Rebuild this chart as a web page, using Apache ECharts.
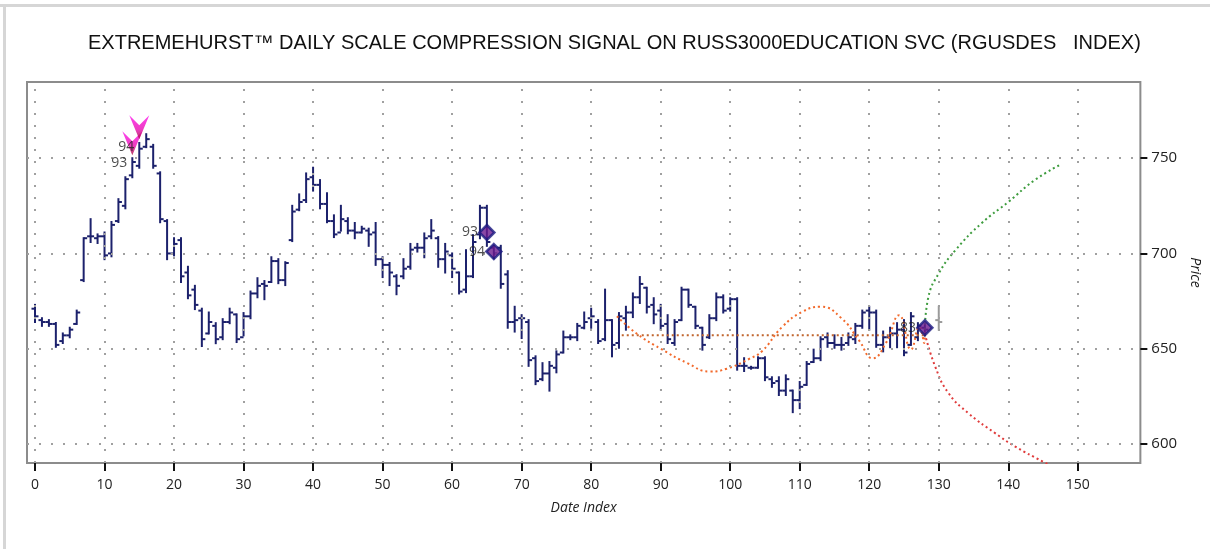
<!DOCTYPE html>
<html>
<head>
<meta charset="utf-8">
<script src="https://cdn.jsdelivr.net/npm/echarts@6/dist/echarts.min.js"></script>
<style>
html, body { margin: 0; padding: 0; background: #fff; }
#chart { width: 1210px; height: 549px; }
</style>
</head>
<body>
<div id="chart"></div>
<script>
var xTicks = [0, 10, 20, 30, 40, 50, 60, 70, 80, 90, 100, 110, 120, 130, 140, 150];
var yTicks = [600, 650, 700, 750];

// daily bars, x = position in the arrays
var barOpen = [
	671,665,664,663,654,657,663,686,709,708,
	709,700,717,725,741,746,756,756,742,717,
	700,707,690,681,670,658,662,656,664,668,
	656,667,679,684,685,696,686,707,723,728,
	740,736,726,717,711,717,712,711,712,711,
	697,694,688,688,693,703,703,709,708,697,
	699,690,681,688,710,724,703,703,689,664,
	666,664,645,634,637,640,648,656,656,661,
	666,664,655,665,653,666,669,677,682,673,
	670,663,653,665,681,672,661,656,666,677,
	671,676,641,640,640,645,634,633,628,628,
	623,631,643,645,656,653,652,653,655,662,
	670,669,652,656,658,660,652,656,661
];
var barHigh = [
	673,666,665,663.5,658,661,670,708,718,710,
	711,716.5,728.5,740,750,758,762.6,757,742.6,717.5,
	708,708,693,683,671,669,663.4,665.5,671,668,
	668.7,680,687,685.5,698,697,695.4,725,731,742,
	745,738.5,731.6,720,725,718.5,716,714,713,716,
	698,695,688.6,697,705,705,710.5,717.5,708.6,705,
	700,690,701.7,709.6,725,725,704,704,690.7,672,
	667.6,665,646,642.4,643,648.6,659,657,663,669,
	671,665,681,665,668.7,672,679,687.6,682,676.5,
	673,667.6,665,682,681,672,661,667.6,679,678,
	676.5,676.5,645,640.5,645.5,645.5,635,635,636,628,
	632.5,643,649.5,656,658,657,655.6,658,663,670,
	672,670,659,661,663.4,665,668.7,663.4,663
];
var barLow = [
	664,662,662,651,653,656,663,685.5,706,705.5,
	697,698.5,716.5,723.7,740,745,755.8,745,716.4,697,
	699,685,676.5,670.8,651.4,658,652.9,655,663.4,653.5,
	657,666,677,676,685,684.4,683.4,706.5,722.7,727,
	733,723.7,716.4,708.6,712,710.6,708,711,704,694,
	687.6,683.4,678.6,687,692,701,698,708,693,690,
	687.6,679,679.7,687.6,708,704,697.5,682,661,659,
	655.6,641,631.4,633.5,628,637.6,648,655,654.5,660.7,
	661,653,654.5,646,650.5,660,666.6,674,669,663.4,
	660,653,652,665,672,660.8,649.5,655.6,665,669,
	670,639,638.3,639.5,640,633.5,630,625.7,625.7,616.7,
	618.8,631,643,644,651,650.5,649.5,652,653,661,
	660,651,648.6,650.8,650.8,646.6,652,654.5,657
];
var barClose = [
	667,664,663,652,657,660,669,708,709,709,
	699,715,727,739,748,755,760,746,718,700,
	705,688,678,673,655,664,655,664,669,655,
	667,679,683,683,696,686,695,722,727,739,
	736,726,717,710,718,712,711,713,710,697,
	694,690,683,692,702,703,708,712,697,701,
	692,680,688,706,724,706,700,684,664,665,
	666,644,633,637,641,647,656,656,662,664,
	667,654,665,652,667,669,677,684,672,668,
	662,655,664,681,673,662,652,666,677,670,
	676,641,641,640,645,635,632,628,634,623,
	630,642,645,655,653,652,652,656,662,669,
	669,652,656,658,660,648,667,662,660
];
// grey bar after the last day [x, open, high, low, close]
var nextBar = [[130, 665, 672, 660, 664]];

// signals
var arrowPoints = [[14, 751.6], [15, 760]];
var arrowLabels = ['93', '94'];
var diamondPoints = [[65, 711], [66, 701], [128, 661]];
var diamondLabels = ['93', '94', '83'];

// projections
var cycleCurve = [
	[83.7,667],[86.7,657.5],[90,650],[93.8,642.5],[97.1,638],[99.5,639.5],[102.7,644.6],
	[104.6,648.8],[107.5,661.5],[110.4,669.4],[113,672],[116,666],[118.5,654.5],[120.5,645],
	[122.4,653],[124.3,667.6],[126,649.6],[127.2,661.5],[127.9,653],[128,660]
];
var levelLine = [[84.4, 657], [128, 657]];
var upperBand = [[128,660],[128.5,677],[130,689.5],[132.4,701.7],[136.2,716],[140,727],[143.8,738.5],[147.6,746.8]];
var lowerBand = [[128,658],[129.5,640.5],[131.4,626.7],[134.3,616],[138.1,605.7],[141,598.6],[145,590.7],[147,587]];

var chart = echarts.init(document.getElementById('chart'));

var ohlc = [];
for (var i = 0; i < barOpen.length; i++) {
	ohlc.push([i, barOpen[i], barHigh[i], barLow[i], barClose[i]]);
}

function renderBar(color) {
	return function (params, api) {
		var x = api.value(0);
		var o = api.coord([x, api.value(1)]);
		var h = api.coord([x, api.value(2)]);
		var l = api.coord([x, api.value(3)]);
		var c = api.coord([x, api.value(4)]);
		var st = { stroke: color, lineWidth: 2 };
		return {
			type: 'group',
			children: [
				{ type: 'line', shape: { x1: h[0], y1: h[1] - 1, x2: l[0], y2: l[1] + 1 }, style: st },
				{ type: 'line', shape: { x1: o[0] - 3.5, y1: o[1], x2: o[0], y2: o[1] }, style: st },
				{ type: 'line', shape: { x1: c[0], y1: c[1], x2: c[0] + 3.5, y2: c[1] }, style: st }
			]
		};
	};
}

var dotted = [2, 10];
var gridLines = [];
xTicks.forEach(function (v) { gridLines.push({ xAxis: v }); });
yTicks.forEach(function (v) { gridLines.push({ yAxis: v }); });

function labelled(points, labels) {
	return points.map(function (p, k) { return { value: p, name: labels[k] }; });
}

var options = {
	animation: false,
	backgroundColor: '#fff',
	title: {
		text: 'EXTREMEHURST\u2122 DAILY SCALE COMPRESSION SIGNAL ON RUSS3000EDUCATION SVC (RGUSDES   INDEX)',
		left: 83,
		top: 28,
		textStyle: { fontFamily: 'Liberation Sans', fontSize: 20, fontWeight: 'normal', color: '#111' }
	},
	graphic: [
		{ type: 'rect', shape: { x: 0, y: 4, width: 1210, height: 3 }, style: { fill: '#d6d6d6' } },
		{ type: 'rect', shape: { x: 3, y: 4, width: 3, height: 545 }, style: { fill: '#d6d6d6' } }
	],
	grid: {
		left: 27,
		top: 82,
		width: 1116,
		height: 381,
		show: true,
		borderColor: '#8c8c8c',
		borderWidth: 2,
		backgroundColor: '#fff'
	},
	xAxis: {
		type: 'value',
		min: -1.15,
		max: 159,
		axisLine: { show: false, onZero: false },
		splitLine: { show: false },
		axisTick: { customValues: xTicks, length: 8, lineStyle: { color: '#111', width: 2 } },
		axisLabel: { customValues: xTicks, fontFamily: 'Open Sans', fontSize: 14, color: '#222', margin: 15 },
		name: 'Date Index',
		nameLocation: 'middle',
		nameGap: 38,
		nameTextStyle: { fontFamily: 'Open Sans', fontSize: 14, fontStyle: 'italic', color: '#222' }
	},
	yAxis: {
		type: 'value',
		position: 'right',
		min: 590,
		max: 790,
		axisLine: { show: false, onZero: false },
		splitLine: { show: false },
		axisTick: { customValues: yTicks, length: 7, lineStyle: { color: '#111', width: 2 } },
		axisLabel: { customValues: yTicks, fontFamily: 'Open Sans', fontSize: 15, color: '#222', margin: 11 },
		name: 'Price',
		nameLocation: 'middle',
		nameRotate: -90,
		nameGap: 38,
		nameTextStyle: { fontFamily: 'Open Sans', fontSize: 14, fontStyle: 'italic', color: '#222' }
	},
	series: [
		{
			type: 'line',
			data: [],
			silent: true,
			markLine: {
				silent: true,
				symbol: ['none', 'none'],
				label: { show: false },
				lineStyle: { type: dotted, width: 2, color: '#a0a0a0' },
				data: gridLines
			}
		},
		{
			type: 'line', data: levelLine, showSymbol: false,
			lineStyle: { type: [2, 3], width: 2, color: '#c0652e' }
		},
		{
			type: 'line', data: cycleCurve, smooth: true, showSymbol: false,
			lineStyle: { type: [2, 3], width: 2, color: '#f26a2c' }
		},
		{
			type: 'line', data: upperBand, smooth: true, showSymbol: false,
			lineStyle: { type: [2, 3], width: 2, color: '#3e9c3e' }
		},
		{
			type: 'line', data: lowerBand, smooth: true, showSymbol: false,
			lineStyle: { type: [2, 3], width: 2, color: '#e03c3c' }
		},
		{
			type: 'custom',
			renderItem: renderBar('#1c216c'),
			encode: { x: 0, y: [1, 2, 3, 4] },
			data: ohlc,
			clip: true
		},
		{
			type: 'custom',
			renderItem: renderBar('#9a9a9a'),
			encode: { x: 0, y: [1, 2, 3, 4] },
			data: nextBar
		},
		{
			type: 'scatter',
			data: labelled(arrowPoints, arrowLabels),
			symbol: 'path://M0,0 L11,10 L22,0 L11,24 Z',
			symbolSize: [20, 24],
			symbolOffset: [0, '-50%'],
			itemStyle: {
				color: {
					type: 'linear', x: 0, y: 0, x2: 0, y2: 1,
					colorStops: [{ offset: 0, color: '#ff10f0' }, { offset: 0.6, color: '#e80cb0' }, { offset: 1, color: '#a00c38' }]
				}
			},
			label: {
				show: true,
				formatter: '{b}',
				position: 'left',
				distance: -5,
				offset: [0, 20],
				fontFamily: 'Open Sans',
				fontSize: 14,
				color: '#222'
			},
			z: 5
		},
		{
			type: 'scatter',
			data: labelled(diamondPoints, diamondLabels),
			symbol: 'diamond',
			symbolSize: 15,
			itemStyle: { color: '#6c1a8e', borderColor: '#1a1a80', borderWidth: 2.5 },
			label: {
				show: true,
				formatter: '{b}',
				position: 'left',
				distance: 0,
				fontFamily: 'Open Sans',
				fontSize: 14,
				color: '#222'
			},
			z: 6
		}
	]
};

chart.setOption(options);
</script>
</body>
</html>
